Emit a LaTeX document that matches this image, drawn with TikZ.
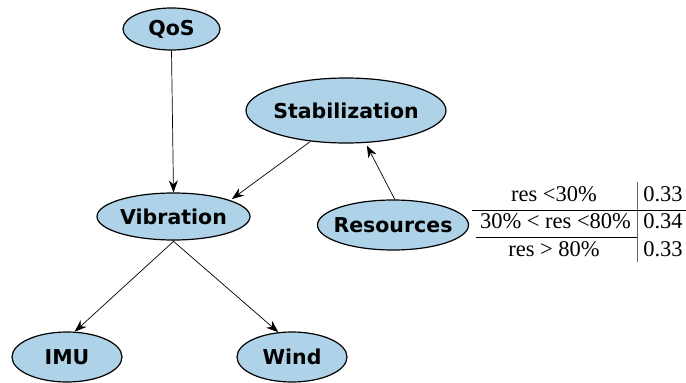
\documentclass[tikz,border=0pt]{standalone}
\usepackage{fontspec}
\setmainfont{Liberation Serif}
\newfontfamily\nodefont{DejaVu Sans}
\usetikzlibrary{shapes.geometric,arrows.meta}
\definecolor{nodeblue}{RGB}{174,210,231}
\tikzset{
  var/.style={ellipse, draw=black, line width=1.2pt, fill=nodeblue,
    inner xsep=-14pt, inner ysep=0pt,
    font=\nodefont\bfseries\fontsize{20.5}{24}\selectfont},
  link/.style={-{Stealth[length=12pt,width=9pt]}, line width=0.7pt},
  cell/.style={font=\fontsize{22.5}{24}\selectfont, inner sep=0pt, anchor=base},
  rule/.style={line width=0.8pt}
}
\begin{document}
\begin{tikzpicture}[x=1pt,y=-1pt]
\useasboundingbox (0,0) rectangle (686,383);
% variables
\node[var, minimum width=97, minimum height=42] (qos) at (171.5,29) {QoS};
\node[var, minimum width=200, minimum height=65] (stab) at (346,110.5) {Stabilization};
\node[var, minimum width=153, minimum height=47] (vib) at (173.5,216.5) {Vibration};
\node[var, minimum width=151, minimum height=50] (res) at (393,225) {Resources};
\node[var, minimum width=110, minimum height=50] (imu) at (67,357) {IMU};
\node[var, minimum width=110, minimum height=50] (wind) at (292,357) {Wind};
% dependencies
\draw[link] (qos.south) -- (vib.north);
\draw[link, shorten >=2pt] (stab.-139.5) -- (vib.16);
\draw[link, shorten >=3pt] (res.86) -- (stab.-59);
\draw[link] (vib.-88) -- (imu.73);
\draw[link] (vib.-92) -- (wind.119);
% probability table of Resources
\node[cell] (r1) at (554,201) {res <30\%};
\node[cell] (r2) at (555.5,228) {30\% < res <80\%};
\node[cell] (r3) at (554,256) {res > 80\%};
\node[cell] (p1) at (663,201) {0.33};
\node[cell] (p2) at (663,228) {0.34};
\node[cell] (p3) at (663,256) {0.33};
\coordinate (vt) at (637,182);
\coordinate (vb) at (637,262);
\coordinate (h1l) at (472,210);
\coordinate (h1r) at (686,210);
\coordinate (h2l) at (476,237);
\coordinate (h2r) at (637,237);
\draw[rule, black!60] (vt) -- (vb);
\draw[rule] (h1l) -- (h1r);
\draw[rule] (h2l) -- (h2r);
\end{tikzpicture}
\end{document}
